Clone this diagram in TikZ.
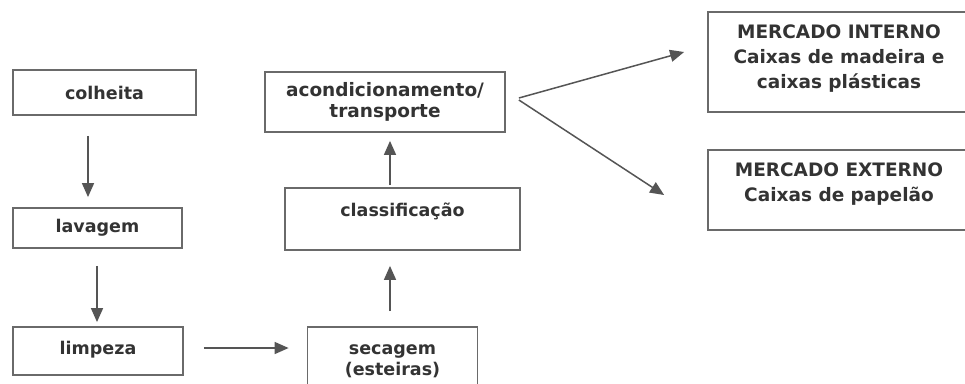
\documentclass[tikz,border=0pt]{standalone}
\usepackage{fontspec}
\setmainfont{DejaVu Sans}
\usetikzlibrary{arrows.meta,calc}
\definecolor{boxline}{HTML}{6A6A6A}
\definecolor{txt}{HTML}{333333}
\definecolor{arrline}{HTML}{555555}
\tikzset{
  box/.style={draw=boxline,line width=1.8pt,rectangle,inner sep=0pt,align=center,
    text=txt,font=\fontsize{17.5}{21}\selectfont\bfseries},
  mbox/.style={box,font=\fontsize{18.5}{25}\selectfont\bfseries},
  arr/.style={draw=arrline,line width=1.5pt,-{Triangle[length=14pt,width=12pt]}}
}
\begin{document}
\begin{tikzpicture}[x=1pt,y=-1pt]
\useasboundingbox[fill=white] (0,0) rectangle (965,383);
\node[box,minimum width=183pt,minimum height=45pt] (colheita) at (104.5,92.5) {colheita};
\node[box,minimum width=169pt,minimum height=40pt] (lavagem) at (97.5,228) {lavagem};
\node[box,minimum width=170pt,minimum height=48pt] (limpeza) at (98,351) {limpeza\\[-15pt]};
\node[box,font=\fontsize{18.5}{21}\selectfont\bfseries,minimum width=240pt,minimum height=60pt] (acond) at (385,102) {acondicionamento/\\transporte};
\node[box,minimum width=235pt,minimum height=62pt] (classif) at (402.5,219) {classificação\\[-3pt]};
\node[box,minimum width=170pt,minimum height=68pt] (secagem) at (392.5,361) {secagem\\(esteiras)};
\node[mbox,minimum width=262pt,minimum height=100pt] (interno) at (839,62) {MERCADO INTERNO\\Caixas de madeira e\\caixas plásticas\\[-15pt]};
\node[mbox,minimum width=262pt,minimum height=80pt] (externo) at (839,190) {MERCADO EXTERNO\\Caixas de papelão\\[-10pt]};
\draw[arr] ($(colheita.south)+(-16.5,20)$) -- ($(lavagem.north)+(-9.5,-10)$);
\draw[arr] ($(lavagem.south)+(-0.5,17)$) -- ($(limpeza.north)+(-1,-4)$);
\draw[arr] ($(limpeza.east)+(20,-3)$) -- ($(secagem.west)+(-18,-13)$);
\draw[arr] ($(secagem.north)+(-2.5,-15)$) -- ($(classif.south)+(-12.5,15)$);
\draw[arr] ($(classif.north)+(-12.5,-2)$) -- ($(acond.south)+(5,8)$);
\draw[arr] ($(acond.east)+(13,-4)$) -- ($(interno.west)+(-23,-10)$);
\draw[arr] ($(acond.east)+(13,-2)$) -- ($(externo.west)+(-43,5)$);
\end{tikzpicture}
\end{document}
